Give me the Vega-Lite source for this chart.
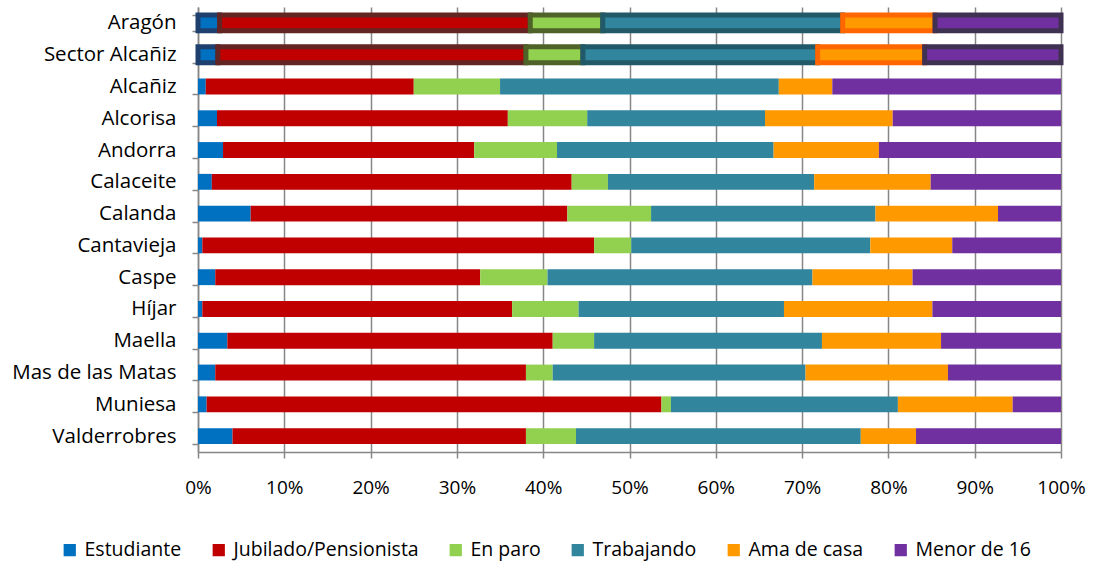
{
  "$schema": "https://vega.github.io/schema/vega-lite/v6.json",
  "autosize": "none",
  "width": 863,
  "height": 445,
  "padding": {"left": 198, "top": 7, "right": 34, "bottom": 112},
  "background": "#ffffff",
  "config": {
    "view": {"stroke": null},
    "font": "Open Sans",
    "axis": {
      "labelFont": "Open Sans",
      "labelColor": "#000000",
      "domainColor": "#868686",
      "tickColor": "#868686",
      "gridColor": "#868686",
      "domainWidth": 1.5,
      "tickWidth": 1.5,
      "gridWidth": 1.5
    },
    "legend": {"labelFont": "Open Sans"}
  },
  "data": {
    "values": [
      {"zona": "Aragón", "ocupacion": "Estudiante", "pct": 2.5},
      {"zona": "Aragón", "ocupacion": "Jubilado/Pensionista", "pct": 36.0},
      {"zona": "Aragón", "ocupacion": "En paro", "pct": 8.4},
      {"zona": "Aragón", "ocupacion": "Trabajando", "pct": 27.8},
      {"zona": "Aragón", "ocupacion": "Ama de casa", "pct": 10.7},
      {"zona": "Aragón", "ocupacion": "Menor de 16", "pct": 14.6},
      {"zona": "Sector Alcañiz", "ocupacion": "Estudiante", "pct": 2.3},
      {"zona": "Sector Alcañiz", "ocupacion": "Jubilado/Pensionista", "pct": 35.7},
      {"zona": "Sector Alcañiz", "ocupacion": "En paro", "pct": 6.6},
      {"zona": "Sector Alcañiz", "ocupacion": "Trabajando", "pct": 27.2},
      {"zona": "Sector Alcañiz", "ocupacion": "Ama de casa", "pct": 12.4},
      {"zona": "Sector Alcañiz", "ocupacion": "Menor de 16", "pct": 15.8},
      {"zona": "Alcañiz", "ocupacion": "Estudiante", "pct": 0.9},
      {"zona": "Alcañiz", "ocupacion": "Jubilado/Pensionista", "pct": 24.1},
      {"zona": "Alcañiz", "ocupacion": "En paro", "pct": 10.0},
      {"zona": "Alcañiz", "ocupacion": "Trabajando", "pct": 32.3},
      {"zona": "Alcañiz", "ocupacion": "Ama de casa", "pct": 6.2},
      {"zona": "Alcañiz", "ocupacion": "Menor de 16", "pct": 26.5},
      {"zona": "Alcorisa", "ocupacion": "Estudiante", "pct": 2.2},
      {"zona": "Alcorisa", "ocupacion": "Jubilado/Pensionista", "pct": 33.7},
      {"zona": "Alcorisa", "ocupacion": "En paro", "pct": 9.2},
      {"zona": "Alcorisa", "ocupacion": "Trabajando", "pct": 20.6},
      {"zona": "Alcorisa", "ocupacion": "Ama de casa", "pct": 14.8},
      {"zona": "Alcorisa", "ocupacion": "Menor de 16", "pct": 19.5},
      {"zona": "Andorra", "ocupacion": "Estudiante", "pct": 2.9},
      {"zona": "Andorra", "ocupacion": "Jubilado/Pensionista", "pct": 29.1},
      {"zona": "Andorra", "ocupacion": "En paro", "pct": 9.6},
      {"zona": "Andorra", "ocupacion": "Trabajando", "pct": 25.1},
      {"zona": "Andorra", "ocupacion": "Ama de casa", "pct": 12.2},
      {"zona": "Andorra", "ocupacion": "Menor de 16", "pct": 21.1},
      {"zona": "Calaceite", "ocupacion": "Estudiante", "pct": 1.6},
      {"zona": "Calaceite", "ocupacion": "Jubilado/Pensionista", "pct": 41.7},
      {"zona": "Calaceite", "ocupacion": "En paro", "pct": 4.2},
      {"zona": "Calaceite", "ocupacion": "Trabajando", "pct": 23.9},
      {"zona": "Calaceite", "ocupacion": "Ama de casa", "pct": 13.5},
      {"zona": "Calaceite", "ocupacion": "Menor de 16", "pct": 15.1},
      {"zona": "Calanda", "ocupacion": "Estudiante", "pct": 6.1},
      {"zona": "Calanda", "ocupacion": "Jubilado/Pensionista", "pct": 36.7},
      {"zona": "Calanda", "ocupacion": "En paro", "pct": 9.7},
      {"zona": "Calanda", "ocupacion": "Trabajando", "pct": 26.0},
      {"zona": "Calanda", "ocupacion": "Ama de casa", "pct": 14.2},
      {"zona": "Calanda", "ocupacion": "Menor de 16", "pct": 7.3},
      {"zona": "Cantavieja", "ocupacion": "Estudiante", "pct": 0.5},
      {"zona": "Cantavieja", "ocupacion": "Jubilado/Pensionista", "pct": 45.4},
      {"zona": "Cantavieja", "ocupacion": "En paro", "pct": 4.3},
      {"zona": "Cantavieja", "ocupacion": "Trabajando", "pct": 27.7},
      {"zona": "Cantavieja", "ocupacion": "Ama de casa", "pct": 9.5},
      {"zona": "Cantavieja", "ocupacion": "Menor de 16", "pct": 12.6},
      {"zona": "Caspe", "ocupacion": "Estudiante", "pct": 2.0},
      {"zona": "Caspe", "ocupacion": "Jubilado/Pensionista", "pct": 30.7},
      {"zona": "Caspe", "ocupacion": "En paro", "pct": 7.8},
      {"zona": "Caspe", "ocupacion": "Trabajando", "pct": 30.7},
      {"zona": "Caspe", "ocupacion": "Ama de casa", "pct": 11.6},
      {"zona": "Caspe", "ocupacion": "Menor de 16", "pct": 17.2},
      {"zona": "Híjar", "ocupacion": "Estudiante", "pct": 0.5},
      {"zona": "Híjar", "ocupacion": "Jubilado/Pensionista", "pct": 35.9},
      {"zona": "Híjar", "ocupacion": "En paro", "pct": 7.7},
      {"zona": "Híjar", "ocupacion": "Trabajando", "pct": 23.8},
      {"zona": "Híjar", "ocupacion": "Ama de casa", "pct": 17.2},
      {"zona": "Híjar", "ocupacion": "Menor de 16", "pct": 14.9},
      {"zona": "Maella", "ocupacion": "Estudiante", "pct": 3.4},
      {"zona": "Maella", "ocupacion": "Jubilado/Pensionista", "pct": 37.7},
      {"zona": "Maella", "ocupacion": "En paro", "pct": 4.8},
      {"zona": "Maella", "ocupacion": "Trabajando", "pct": 26.4},
      {"zona": "Maella", "ocupacion": "Ama de casa", "pct": 13.8},
      {"zona": "Maella", "ocupacion": "Menor de 16", "pct": 13.9},
      {"zona": "Mas de las Matas", "ocupacion": "Estudiante", "pct": 2.0},
      {"zona": "Mas de las Matas", "ocupacion": "Jubilado/Pensionista", "pct": 36.0},
      {"zona": "Mas de las Matas", "ocupacion": "En paro", "pct": 3.1},
      {"zona": "Mas de las Matas", "ocupacion": "Trabajando", "pct": 29.3},
      {"zona": "Mas de las Matas", "ocupacion": "Ama de casa", "pct": 16.5},
      {"zona": "Mas de las Matas", "ocupacion": "Menor de 16", "pct": 13.1},
      {"zona": "Muniesa", "ocupacion": "Estudiante", "pct": 1.0},
      {"zona": "Muniesa", "ocupacion": "Jubilado/Pensionista", "pct": 52.7},
      {"zona": "Muniesa", "ocupacion": "En paro", "pct": 1.1},
      {"zona": "Muniesa", "ocupacion": "Trabajando", "pct": 26.3},
      {"zona": "Muniesa", "ocupacion": "Ama de casa", "pct": 13.3},
      {"zona": "Muniesa", "ocupacion": "Menor de 16", "pct": 5.6},
      {"zona": "Valderrobres", "ocupacion": "Estudiante", "pct": 4.0},
      {"zona": "Valderrobres", "ocupacion": "Jubilado/Pensionista", "pct": 34.0},
      {"zona": "Valderrobres", "ocupacion": "En paro", "pct": 5.8},
      {"zona": "Valderrobres", "ocupacion": "Trabajando", "pct": 33.0},
      {"zona": "Valderrobres", "ocupacion": "Ama de casa", "pct": 6.4},
      {"zona": "Valderrobres", "ocupacion": "Menor de 16", "pct": 16.8}
    ]
  },
  "transform": [
    {"calculate": "indexof(['Estudiante','Jubilado/Pensionista','En paro','Trabajando','Ama de casa','Menor de 16'], datum.ocupacion)", "as": "orden"}
  ],
  "mark": {"type": "bar"},
  "encoding": {
    "y": {
      "field": "zona",
      "type": "nominal",
      "sort": null,
      "title": null,
      "scale": {"paddingInner": 0.5, "paddingOuter": 0.25},
      "axis": {"tickBand": "extent", "tickSize": 6, "labelPadding": 16, "labelFontSize": 20.5, "labelLimit": 300, "grid": false}
    },
    "x": {
      "field": "pct",
      "type": "quantitative",
      "stack": "normalize",
      "title": null,
      "scale": {"domain": [0, 1], "nice": false},
      "axis": {"values": [0, 0.1, 0.2, 0.3, 0.4, 0.5, 0.6, 0.7, 0.8, 0.9, 1], "format": ".0%", "tickSize": 6, "labelPadding": 20, "labelFontSize": 19, "labelFlush": false, "grid": true}
    },
    "order": {"field": "orden", "type": "quantitative", "sort": "ascending"},
    "fill": {
      "field": "ocupacion",
      "type": "nominal",
      "title": null,
      "sort": ["Estudiante", "Jubilado/Pensionista", "En paro", "Trabajando", "Ama de casa", "Menor de 16"],
      "scale": {
        "domain": ["Estudiante", "Jubilado/Pensionista", "En paro", "Trabajando", "Ama de casa", "Menor de 16"],
        "range": ["#0070C0", "#C00000", "#92D050", "#31859C", "#FF9900", "#7030A0"]
      },
      "legend": {
        "orient": "none",
        "direction": "horizontal",
        "legendX": -138,
        "legendY": 533,
        "symbolType": "square",
        "symbolSize": 150,
        "symbolStrokeWidth": 0,
        "labelFontSize": 19.5,
        "labelLimit": 400,
        "labelColor": "#000000",
        "labelOffset": 5,
        "columnPadding": 27
      }
    },
    "stroke": {
      "field": "ocupacion",
      "type": "nominal",
      "scale": {
        "domain": ["Estudiante", "Jubilado/Pensionista", "En paro", "Trabajando", "Ama de casa", "Menor de 16"],
        "range": ["#1F3F6E", "#632523", "#4F6228", "#215968", "#FF6600", "#3F3151"]
      },
      "legend": null
    },
    "strokeWidth": {
      "condition": {"test": "datum.zona === 'Aragón' || datum.zona === 'Sector Alcañiz'", "value": 5},
      "value": 0
    }
  }
}
